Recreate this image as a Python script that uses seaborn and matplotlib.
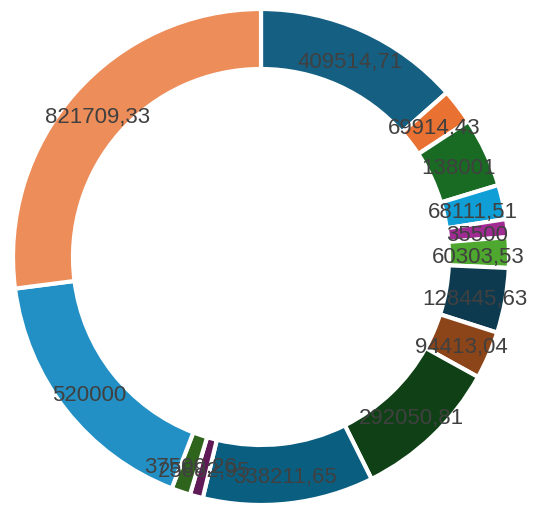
import matplotlib
matplotlib.use("Agg")
import matplotlib.pyplot as plt
import seaborn as sns

# Slice values, clockwise from 12 o'clock
values = [409514.71, 69914.43, 138001, 68111.51, 35500, 60303.53,
          128445.63, 94413.04, 292050.81, 338211.65, 25882.95, 37500.26,
          520000, 821709.33]
labels = ["409514,71", "69914,43", "138001", "68111,51", "35500", "60303,53",
          "128445,63", "94413,04", "292050,81", "338211,65", "25882,95", "37500,26",
          "520000", "821709,33"]
colors = ["#156082", "#E97132", "#196B24", "#0F9ED5", "#A02B93", "#4EA72E",
          "#0D3A4F", "#8C4419", "#0F4016", "#0A5E80", "#601A58", "#2F641C",
          "#2290C4", "#EC8D5A"]

sns.set_theme(style="white")
plt.rcParams["font.family"] = ["Liberation Sans", "DejaVu Sans"]

fig = plt.figure(figsize=(5.33, 5.05), dpi=100)
ax = fig.add_axes([0, 0, 1, 1])

wedges, texts = ax.pie(values, colors=colors, labels=labels, startangle=90,
                       counterclock=False, center=(261, 248), radius=248,
                       labeldistance=0.878, frame=True,
                       wedgeprops=dict(width=60, edgecolor="white", linewidth=3),
                       textprops=dict(color="#404040", fontsize=16,
                                      ha="center", va="center"))
# labels sit a little below the ring middle in the original
for t in texts:
    x, y = t.get_position()
    t.set_position((x, y - 4))

ax.set_xlim(0, 533)
ax.set_ylim(0, 505)
ax.set_aspect("equal")
ax.axis("off")

fig.savefig("out.png", dpi=100, facecolor="white")
plt.close(fig)
